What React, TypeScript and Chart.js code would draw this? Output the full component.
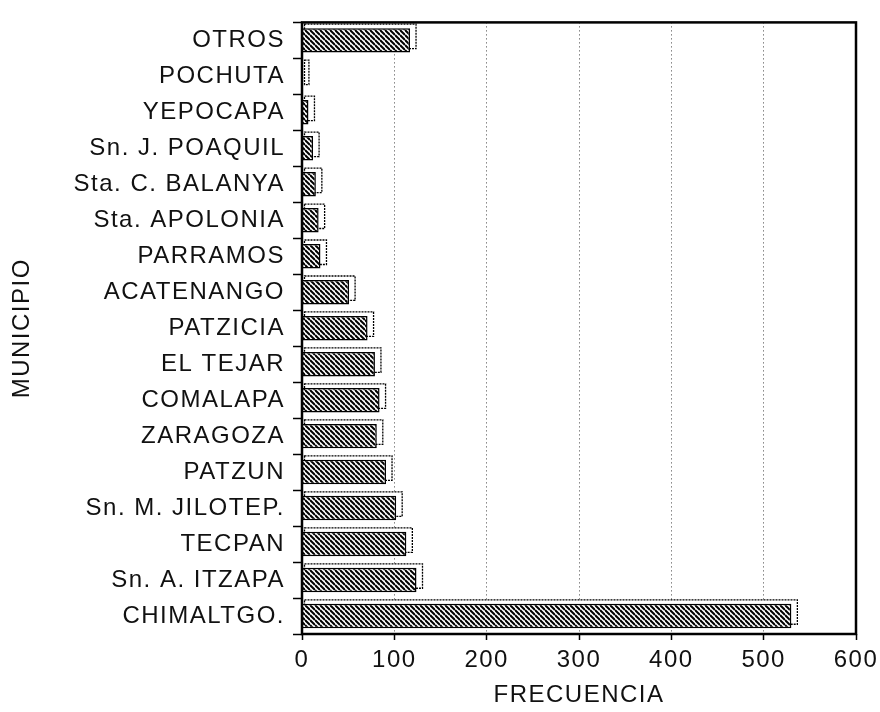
import { useEffect, useRef } from 'react';
import { Chart, registerables } from 'chart.js';

Chart.register(...registerables);

const categories = [
  'OTROS',
  'POCHUTA',
  'YEPOCAPA',
  'Sn. J. POAQUIL',
  'Sta. C. BALANYA',
  'Sta. APOLONIA',
  'PARRAMOS',
  'ACATENANGO',
  'PATZICIA',
  'EL TEJAR',
  'COMALAPA',
  'ZARAGOZA',
  'PATZUN',
  'Sn. M. JILOTEP.',
  'TECPAN',
  'Sn. A. ITZAPA',
  'CHIMALTGO.',
];

const frequencies = [117, 1, 7, 12, 15, 18, 20, 51, 71, 79, 84, 81, 91, 102, 113, 124, 530];

const xTickValues = [0, 100, 200, 300, 400, 500, 600];

const FONT = '"Liberation Sans", Arial, Helvetica, sans-serif';

function makeHatch(ctx: CanvasRenderingContext2D): CanvasPattern | string {
  const s = 5;
  const c = document.createElement('canvas');
  c.width = s;
  c.height = s;
  const g = c.getContext('2d');
  if (!g) return '#666';
  g.fillStyle = '#fff';
  g.fillRect(0, 0, s, s);
  g.strokeStyle = '#000';
  g.lineWidth = 2;
  for (let k = -1; k <= 1; k++) {
    g.beginPath();
    g.moveTo(0, k * s);
    g.lineTo(s, k * s + s);
    g.stroke();
  }
  return ctx.createPattern(c, 'repeat') || '#666';
}

const spacingPlugin = {
  id: 'spacing',
  beforeUpdate(chart: any) {
    chart.ctx.letterSpacing = '1.5px';
  },
  beforeDraw(chart: any) {
    chart.ctx.letterSpacing = '1.5px';
  },
};

const depthPlugin = {
  id: 'depth',
  beforeDatasetsDraw(chart: any) {
    const ctx = chart.ctx;
    const meta = chart.getDatasetMeta(0);
    const dx = 6;
    const dy = -4;
    ctx.save();
    meta.data.forEach((bar: any) => {
      const p = bar.getProps(['x', 'y', 'base', 'height'], true);
      const left = Math.min(p.base, p.x);
      const right = Math.max(p.base, p.x);
      const top = p.y - p.height / 2;
      ctx.fillStyle = '#fff';
      ctx.strokeStyle = '#000';
      ctx.lineWidth = 1.3;
      ctx.setLineDash([2, 1]);
      ctx.fillRect(left + 2, top + dy, right - left + dx - 2, p.height);
      ctx.strokeRect(left + 2, top + dy, right - left + dx - 2, p.height);
    });
    ctx.restore();
  },
};

const framePlugin = {
  id: 'frame',
  afterDatasetsDraw(chart: any) {
    const { left, right, top, bottom } = chart.chartArea;
    const ctx = chart.ctx;
    ctx.save();
    ctx.strokeStyle = '#000';
    ctx.lineWidth = 2.5;
    ctx.setLineDash([]);
    ctx.strokeRect(left, top, right - left, bottom - top);
    ctx.restore();
  },
};

export default function App() {
  const ref = useRef<HTMLCanvasElement>(null);

  useEffect(() => {
    document.body.style.margin = '0';
    const canvas = ref.current;
    if (!canvas) return;
    const ctx = canvas.getContext('2d') as CanvasRenderingContext2D;
    const hatch = makeHatch(ctx);

    const chart = new Chart(canvas, {
      type: 'bar',
      data: {
        labels: categories,
        datasets: [
          {
            label: 'FRECUENCIA',
            data: frequencies,
            backgroundColor: hatch as any,
            borderColor: '#000',
            borderWidth: 1.5,
            barPercentage: 0.68,
            categoryPercentage: 1,
          },
        ],
      },
      options: {
        indexAxis: 'y',
        animation: false,
        responsive: true,
        maintainAspectRatio: false,
        layout: { padding: { top: 14, right: 24, bottom: 0, left: 8 } },
        plugins: {
          legend: { display: false },
          tooltip: { enabled: false },
        },
        scales: {
          x: {
            type: 'linear',
            min: 0,
            max: 600,
            afterBuildTicks: (scale: any) => {
              scale.ticks = xTickValues.map((v) => ({ value: v }));
            },
            afterFit: (scale: any) => {
              scale.height = 78;
              scale.paddingRight = 0;
              scale.paddingLeft = 0;
            },
            ticks: {
              font: { family: FONT, size: 24 },
              color: '#111',
              padding: 6,
              maxRotation: 0,
            },
            grid: {
              color: (c: any) =>
                c.tick && (c.tick.value === 0 || c.tick.value === 600) ? 'rgba(0,0,0,0)' : '#444',
              lineWidth: 1,
              tickColor: '#000',
              tickLength: 6,
              tickWidth: 1.5,
              tickBorderDash: [],
            } as any,
            border: { display: false, dash: [1, 3] },
            title: {
              display: true,
              text: 'FRECUENCIA',
              font: { family: FONT, size: 24 },
              color: '#111',
              padding: { top: 0, bottom: 2 },
            },
          },
          y: {
            type: 'category',
            offset: true,
            afterFit: (scale: any) => {
              scale.width = 294;
            },
            ticks: {
              font: { family: FONT, size: 24 },
              color: '#111',
              padding: 8,
              autoSkip: false,
            },
            grid: {
              offset: true,
              drawOnChartArea: false,
              tickColor: '#000',
              tickLength: 9,
              tickWidth: 1.5,
            } as any,
            border: { display: false },
            title: {
              display: true,
              text: 'MUNICIPIO',
              font: { family: FONT, size: 24 },
              color: '#111',
              padding: 0,
            },
          },
        },
      },
      plugins: [spacingPlugin, depthPlugin, framePlugin],
    });

    return () => chart.destroy();
  }, []);

  return (
    <div style={{ width: 880, height: 712, position: 'relative' }}>
      <canvas ref={ref} />
    </div>
  );
}
